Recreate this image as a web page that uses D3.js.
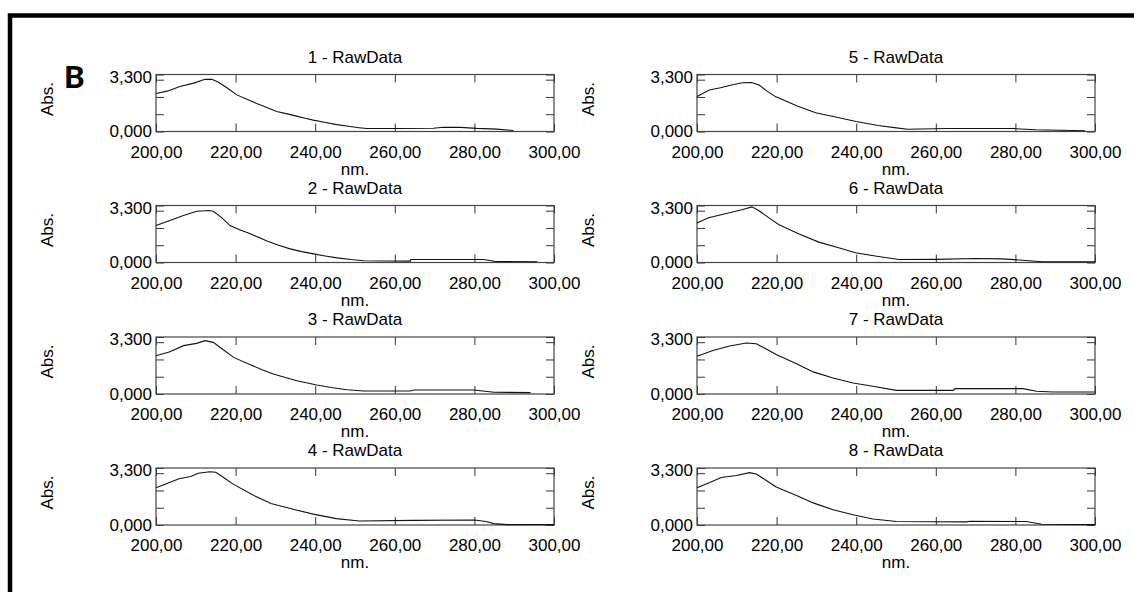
<!DOCTYPE html>
<meta charset="utf-8">
<html>
<head>
<script src="https://d3js.org/d3.v7.min.js"></script>
<style>
  body { margin: 0; background: #fff; }
  svg { display: block; }
  .tick text { font-family: "Liberation Sans", Arial, sans-serif; font-size: 17px; fill: #000; }
  .lbl { font-family: "Liberation Sans", Arial, sans-serif; font-size: 17px; fill: #000; }
</style>
</head>
<body>
<svg width="1134" height="592"></svg>
<script>

// spectra: [nm, Abs]
var s1 = [[200,2.2],[203,2.35],[206,2.6],[209.5,2.8],[212.3,3.02],[214,3.02],[215.5,2.88],[218,2.5],[220.3,2.12],[223,1.85],[225.3,1.62],[228,1.38],[230.3,1.16],[233,1.02],[235.3,0.89],[237.5,0.77],[239.5,0.66],[242,0.55],[245.4,0.4],[248.3,0.3],[251,0.22],[253,0.17],[260.5,0.17],[269.7,0.19],[272.2,0.25],[276.4,0.24],[280.6,0.18],[285.6,0.14],[289.8,0.06]];
var s2 = [[200,2.14],[203.5,2.43],[206.9,2.72],[210.2,2.97],[213.2,3.01],[214.4,2.97],[216.5,2.6],[218.6,2.14],[221,1.9],[223.7,1.66],[227.9,1.24],[230.8,1.0],[233.7,0.79],[236.6,0.63],[239.6,0.5],[242.5,0.38],[245.5,0.27],[249,0.17],[252.2,0.1],[263.9,0.08],[264,0.17],[282.4,0.17],[285.3,0.06],[295.8,0.04]];
var s3 = [[200,2.22],[203.5,2.45],[206.9,2.8],[210.2,2.93],[212.3,3.09],[214.4,2.99],[217,2.55],[219.5,2.12],[223.7,1.7],[226.5,1.42],[229.5,1.16],[232.5,0.95],[235.4,0.77],[240.4,0.52],[244,0.38],[248,0.25],[252.2,0.17],[263.9,0.17],[264.8,0.23],[279.9,0.23],[284.9,0.1],[294.1,0.08]];
var s4 = [[200,2.15],[202.9,2.42],[205.8,2.68],[208.7,2.81],[210.6,3.0],[213.5,3.08],[215,3.05],[217,2.75],[219.3,2.38],[224.1,1.76],[228.9,1.25],[234.7,0.9],[239.5,0.63],[245.3,0.37],[251.1,0.23],[264.6,0.27],[280,0.29],[282.9,0.2],[284.9,0.08],[288.2,0.02],[300,0.02]];
var s5 = [[200,2.02],[203.1,2.4],[205.9,2.53],[208.7,2.69],[211.4,2.82],[213.7,2.84],[215.6,2.69],[217.5,2.35],[219.7,2.02],[225.2,1.48],[229.8,1.09],[235.4,0.81],[240,0.58],[245.5,0.35],[250.1,0.21],[252.9,0.13],[263,0.17],[279.6,0.17],[285.1,0.1],[297.5,0.04]];
var s6 = [[200,2.28],[202.9,2.59],[207.1,2.82],[211.3,3.05],[213.8,3.22],[215.5,3.01],[218,2.6],[220.5,2.2],[225.5,1.66],[230.6,1.18],[235.6,0.85],[239.8,0.56],[245.6,0.35],[250.7,0.17],[260,0.18],[270,0.23],[276.7,0.21],[282.6,0.12],[286.8,0.04],[300,0.04]];
var s7 = [[200,2.19],[204,2.52],[208.2,2.78],[212.4,2.95],[214.9,2.91],[217.4,2.6],[219.9,2.29],[225,1.75],[229.2,1.28],[234.2,0.93],[239.2,0.64],[244.2,0.45],[250.1,0.21],[264.4,0.21],[264.8,0.31],[281.9,0.31],[285.3,0.16],[289.5,0.12],[300,0.12]];
var s8 = [[200,2.16],[203.2,2.46],[206.1,2.75],[209.9,2.87],[213.2,3.03],[214.9,2.95],[217.4,2.58],[219.9,2.2],[225,1.71],[229.2,1.28],[234.2,0.88],[239.2,0.59],[244.2,0.35],[250.1,0.2],[267.7,0.18],[268.6,0.22],[282.8,0.2],[286.6,0.04],[300,0.02]];

var spectra = [s1, s2, s3, s4, s5, s6, s7, s8];
var titles = ["1 - RawData", "2 - RawData", "3 - RawData", "4 - RawData",
              "5 - RawData", "6 - RawData", "7 - RawData", "8 - RawData"];
var xTicks = [200, 220, 240, 260, 280, 300];
var yTicks = [0, 1, 2, 3, 3.3];
var yLabelled = [0, 3.3];
var xLabel = "nm.", yLabel = "Abs.";

var svg = d3.select("svg");
var W = 398, H = 57;
var colX = [156, 697];
var rowY = [74.5, 205.5, 337, 468];

var loc = d3.formatLocale({decimal: ",", thousands: ".", grouping: [3], currency: ["", ""]});
var fx = loc.format(".2f"), fy = loc.format(".3f");

// outer frame
svg.append("rect")
    .attr("x", 10).attr("y", 15.5)
    .attr("width", 1200).attr("height", 700)
    .attr("fill", "none").attr("stroke", "#000").attr("stroke-width", 4.5);

svg.append("text")
    .attr("x", 64).attr("y", 88)
    .style("font-family", "Lato, 'Open Sans', sans-serif")
    .style("font-weight", 900).style("font-size", "31px")
    .text("B");

var x = d3.scaleLinear().domain([200, 300]).range([0, W]);
var y = d3.scaleLinear().domain([0, 3.3]).range([H, 0]);
var line = d3.line().x(function(d) { return x(d[0]); }).y(function(d) { return y(d[1]); });

spectra.forEach(function(data, i) {
  var g = svg.append("g")
      .attr("transform", "translate(" + colX[Math.floor(i / 4)] + "," + rowY[i % 4] + ")");

  g.append("g")
      .attr("transform", "translate(0," + H + ")")
      .call(d3.axisBottom(x).tickValues(xTicks).tickSizeInner(-8).tickSizeOuter(0).tickPadding(14).tickFormat(fx));
  g.append("g")
      .call(d3.axisTop(x).tickValues(xTicks).tickSizeInner(-8).tickSizeOuter(0).tickFormat(""));
  var ya = g.append("g")
      .call(d3.axisLeft(y).tickValues(yTicks).tickSizeInner(-8).tickSizeOuter(0).tickPadding(4)
        .tickFormat(function(d) { return yLabelled.indexOf(d) >= 0 ? fy(d) : ""; }));
  ya.selectAll(".tick text").attr("dy", function(d) { return d === 3.3 ? "0.45em" : "0.3em"; });
  g.append("g")
      .attr("transform", "translate(" + W + ",0)")
      .call(d3.axisRight(y).tickValues(yTicks).tickSizeInner(-8).tickSizeOuter(0).tickFormat(""));

  g.selectAll(".domain").remove();
  g.selectAll(".tick line").attr("stroke", "#333");

  g.append("rect")
      .attr("width", W).attr("height", H)
      .attr("fill", "none").attr("stroke", "#444").attr("stroke-width", 1.2);

  g.append("path")
      .datum(data)
      .attr("fill", "none").attr("stroke", "#111").attr("stroke-width", 1.1)
      .attr("d", line);

  g.append("text").attr("class", "lbl")
      .attr("x", W / 2).attr("y", -12)
      .attr("text-anchor", "middle")
      .text(titles[i]);

  g.append("text").attr("class", "lbl")
      .attr("x", W / 2).attr("y", H + 43)
      .attr("text-anchor", "middle")
      .text(xLabel);

  g.append("text").attr("class", "lbl")
      .attr("transform", "translate(" + (-103) + "," + (H / 2 - 4) + ")rotate(-90)")
      .attr("text-anchor", "middle")
      .text(yLabel);
});

</script>
</body>
</html>
